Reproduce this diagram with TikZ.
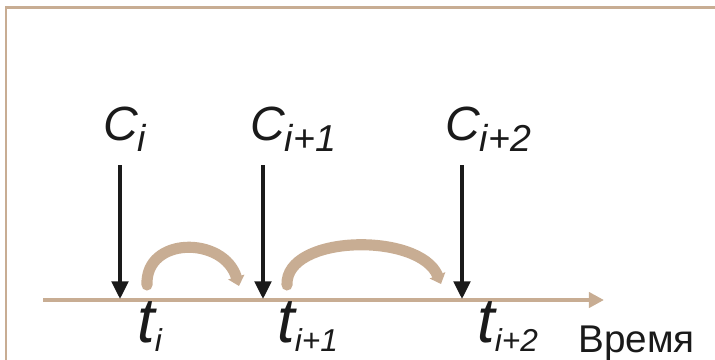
\documentclass[tikz,border=0pt]{standalone}
\usepackage{fontspec}
\setmainfont{Liberation Sans}
\usepackage{xcolor}
\definecolor{sand}{HTML}{C8AD93}
\definecolor{ink}{HTML}{1A1A1A}
\usetikzlibrary{arrows.meta}
\newcommand{\clabel}[2]{{\fontsize{41}{41}\selectfont\itshape #1}\raisebox{-10pt}{\fontsize{32}{32}\selectfont\itshape #2}}
\newcommand{\tlabel}[2]{{\fontsize{54}{54}\selectfont\itshape #1}\raisebox{-8.5pt}{\fontsize{27}{27}\selectfont\itshape #2}}
\tikzset{
    frame/.style = {draw=sand, line width=2.5pt},
    timeaxis/.style = {-{Triangle[length=13pt,width=13pt]}, line width=3.5pt, color=sand},
    event/.style = {-{Triangle[length=15pt,width=14pt]}, line width=3.2pt, color=ink},
    hop/.style = {-{Triangle[length=8pt,width=14pt]}, line width=9.5pt, color=sand, line cap=round},
    lbl/.style = {anchor=base west, inner sep=0pt, text=ink},
}
\begin{document}
\begin{tikzpicture}[x=0.03cm, y=-0.03cm]
        \useasboundingbox (0,0) rectangle (715,360);
        % frame
        \draw[frame] (6,380) -- (6,7.5) -- (740,7.5);
        % axis
        \coordinate (origin) at (43,300);
        \coordinate (tend) at (604,300);
        \draw[timeaxis] (origin) -- (tend);
        \node[lbl, font=\fontsize{33}{33}\selectfont] (time) at (578,352) {Время};
        % events
        \foreach \n/\x in {1/120, 2/263, 3/462} {
            \coordinate (top\n) at (\x,165);
            \coordinate (hit\n) at (\x,299);
            \draw[event] (top\n) -- (hit\n);
        }
        % labels
        \node[lbl] (c1) at (103,140) {\clabel{C}{i}};
        \node[lbl] (c2) at (250,140) {\clabel{C}{i+1}};
        \node[lbl] (c3) at (445,140) {\clabel{C}{i+2}};
        \node[lbl] (t1) at (137,342) {\tlabel{t}{i}};
        \node[lbl] (t2) at (277,342) {\tlabel{t}{i+1}};
        \node[lbl] (t3) at (477,342) {\tlabel{t}{i+2}};
        % hops
        \coordinate (a1) at (147,285);
        \coordinate (b1) at (239,286);
        \draw[hop] (a1) .. controls (145,236) and (224,236) .. (b1);
        \coordinate (a2) at (287,285);
        \coordinate (b2) at (441,284);
        \draw[hop] (a2) .. controls (285,234) and (420,232) .. (b2);
      \end{tikzpicture}
\end{document}
